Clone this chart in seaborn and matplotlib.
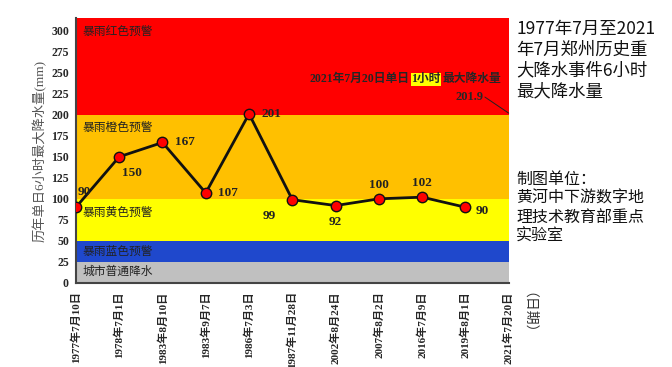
import pandas as pd
import matplotlib.pyplot as plt
import seaborn as sns

dates = ['1977年7月10日', '1978年7月1日', '1983年8月10日', '1983年9月7日', '1986年7月3日',
         '1987年11月28日', '2002年8月24日', '2007年8月2日', '2016年7月9日', '2019年8月1日',
         '2021年7月20日']
rain = [90, 150, 167, 107, 201, 99, 92, 100, 102, 90]
peak_2021 = 201.9

bands = [(0, 25, '#c0c0c0', '城市普通降水'),
         (25, 50, '#1f48cc', '暴雨蓝色预警'),
         (50, 100, '#ffff00', '暴雨黄色预警'),
         (100, 200, '#ffc000', '暴雨橙色预警'),
         (200, 315, '#ff0000', '暴雨红色预警')]
band_label_y = [13, 37, 83, 184, 298]

# label offsets in points (dx, dy)
offsets = [(1, 11), (2, -12), (9, 0), (9, 0), (9, 0), (-12, -12), (0, -12), (0, 10), (0, 10), (7, -3)]

sns.set_style('white')
serif = ['Liberation Serif', 'Noto Sans CJK SC']
sans = ['Noto Sans CJK SC', 'DejaVu Sans']
plt.rcParams['font.family'] = serif

df = pd.DataFrame({'idx': range(len(rain)), 'rain': rain})

fig = plt.figure(figsize=(6.72, 3.67), dpi=100)
ax = fig.add_axes([0.113, 0.229, 0.644, 0.722])

for (lo, hi, c, name), ly in zip(bands, band_label_y):
    ax.axhspan(lo, hi, color=c, zorder=0, lw=0)
    ax.text(0.15, ly, name, fontsize=8.5, va='center', ha='left', family=serif, color='#222222')

sns.lineplot(data=df, x='idx', y='rain', ax=ax, color='#111111', lw=2, marker='o',
             markersize=7.5, markerfacecolor='#ff0000', markeredgecolor='#111111',
             markeredgewidth=1, zorder=3)

for i, v in enumerate(rain):
    dx, dy = offsets[i]
    ha = 'left' if dx > 0 else ('right' if dx < -3 else 'center')
    ax.annotate(str(v), (i, v), xytext=(dx, dy), textcoords='offset points',
                fontsize=9.5, fontweight='bold', ha=ha, va='center', color='#222222')

# 2021 annotation, pieces chained one after another
t1 = ax.text(5.4, 242, '2021年7月20日单日', fontsize=8.5, fontweight='bold', ha='left', va='center')
t2 = ax.annotate('1小时', xy=(1, 0.5), xycoords=t1, xytext=(1.2, 0), textcoords='offset points',
                 fontsize=8.5, fontweight='bold', ha='left', va='center',
                 bbox=dict(boxstyle='square,pad=0.05', fc='#ffff00', ec='none'))
ax.annotate('最大降水量', xy=(1, 0.5), xycoords=t2, xytext=(1.2, 0), textcoords='offset points',
            fontsize=8.5, fontweight='bold', ha='left', va='center')
ax.text(9.1, 221, str(peak_2021), fontsize=9, fontweight='bold', ha='center', va='center')
ax.annotate('', (10, peak_2021), xytext=(9.45, 221),
            arrowprops=dict(arrowstyle='-', color='#222222', lw=0.7, shrinkA=0, shrinkB=0))

ax.set_xlim(0, 10)
ax.set_ylim(0, 315)
ax.set_yticks(range(0, 301, 25))
ax.set_xticks(range(len(dates)))
ax.set_xticklabels(dates, rotation=90, fontsize=8, fontweight='bold')
ax.tick_params(axis='y', labelsize=8.5, direction='out', length=3, width=1, pad=2)
ax.tick_params(axis='x', direction='in', length=4, width=1, pad=6)
for lab in ax.get_yticklabels():
    lab.set_fontweight('bold')
ax.set_xlabel('')
ax.set_ylabel('历年单日6小时最大降水量(mm)', fontsize=9.5, color='#555555', labelpad=3)
for s in ['top', 'right']:
    ax.spines[s].set_visible(False)
for s in ['left', 'bottom']:
    ax.spines[s].set_color('#444444')
    ax.spines[s].set_linewidth(1.5)

fig.text(0.777, 0.13, '（日期）', rotation=-90, fontsize=10, family=sans, color='#333333',
         ha='center', va='center')

fig.text(0.768, 0.945, '1977年7月至2021\n年7月郑州历史重\n大降水事件6小时\n最大降水量',
         fontsize=12.5, family=sans, ha='left', va='top', linespacing=1.2, color='#111111')
fig.text(0.768, 0.535, '制图单位：\n黄河中下游数字地\n理技术教育部重点\n实验室',
         fontsize=11.5, family=sans, ha='left', va='top', linespacing=1.15, color='#111111')

plt.savefig('out.png', dpi=100)
